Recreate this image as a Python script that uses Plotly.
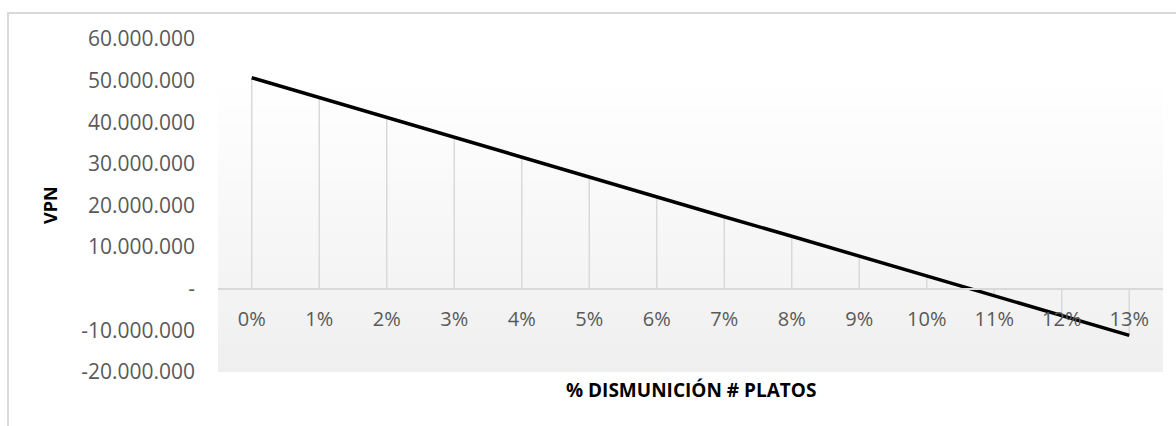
import plotly.graph_objects as go

# Sensitivity of NPV (VPN) to the percentage reduction in number of dishes
categories = ["0%", "1%", "2%", "3%", "4%", "5%", "6%", "7%", "8%", "9%", "10%", "11%", "12%", "13%"]
vpn_values = [50.7e6, 45.9e6, 41.2e6, 36.4e6, 31.6e6, 26.9e6, 22.1e6, 17.3e6,
              12.6e6, 7.8e6, 3.0e6, -1.7e6, -6.5e6, -11.2e6]
y_tickvals = [-20e6, -10e6, 0, 10e6, 20e6, 30e6, 40e6, 50e6, 60e6]
y_ticktext = ["-20.000.000", "-10.000.000", "-", "10.000.000", "20.000.000",
              "30.000.000", "40.000.000", "50.000.000", "60.000.000"]

FONT = "Open Sans"
x_idx = list(range(len(categories)))

fig = go.Figure()

# drop lines from each point to the zero line
drop_x, drop_y = [], []
for i, v in zip(x_idx, vpn_values):
    drop_x += [i, i, None]
    drop_y += [0, v, None]
fig.add_trace(go.Scatter(x=drop_x, y=drop_y, mode="lines",
                         line=dict(color="#d9d9d9", width=1.5),
                         hoverinfo="skip", showlegend=False))

fig.add_trace(go.Scatter(x=x_idx, y=vpn_values, mode="lines",
                         line=dict(color="#000000", width=3.5),
                         showlegend=False))

# vertical gradient plot-area fill, built from stacked bands anchored at the bottom
shapes = []
n = 60
top_white = 0.89
for k in range(n):
    frac = 1 - k / n            # band height from bottom (domain fraction)
    rel = min(max(frac / top_white, 0), 1)
    c = int(round(239 + (255 - 239) * rel))
    shapes.append(dict(type="rect", xref="x domain", yref="y domain",
                       x0=0, x1=1, y0=0, y1=frac, layer="below",
                       line=dict(width=0),
                       fillcolor=f"rgb({c},{c},{c})"))

# chart outer border
shapes.append(dict(type="rect", xref="paper", yref="paper",
                   x0=-210 / 945, x1=1.2, y0=-1.0, y1=1 + 26 / 333,
                   line=dict(color="#d9d9d9", width=2), layer="below"))

fig.update_layout(
    width=1176, height=426,
    margin=dict(l=218, r=13, t=39, b=54),
    paper_bgcolor="white", plot_bgcolor="white",
    font=dict(family=FONT, color="#595959", size=21),
    shapes=shapes,
    xaxis=dict(
        range=[-0.5, len(categories) - 0.5],
        tickmode="array", tickvals=x_idx, ticktext=categories,
        anchor="free", position=0.25,
        showline=True, linecolor="#d9d9d9", linewidth=1.5,
        showgrid=False, zeroline=False, ticks="",
        ticklabelstandoff=12,
        tickfont=dict(family=FONT, size=20, color="#595959"),
    ),
    yaxis=dict(
        range=[-20e6, 60e6],
        tickmode="array", tickvals=y_tickvals, ticktext=y_ticktext,
        showgrid=False, zeroline=False, showline=False, ticks="",
        ticklabelstandoff=22,
        tickfont=dict(family=FONT, size=21, color="#595959"),
    ),
    annotations=[
        dict(text="<b>% DISMUNICIÓN # PLATOS</b>", xref="paper", yref="paper",
             x=0.5, y=-18 / 333, xanchor="center", yanchor="middle",
             showarrow=False, font=dict(family=FONT, size=19, color="#000000")),
        dict(text="<b>VPN</b>", xref="paper", yref="paper",
             x=-168 / 945, y=(372 - 205) / 333, xanchor="center", yanchor="middle",
             textangle=-90, showarrow=False,
             font=dict(family=FONT, size=18, color="#000000")),
    ],
)

fig.write_html("out.html")
